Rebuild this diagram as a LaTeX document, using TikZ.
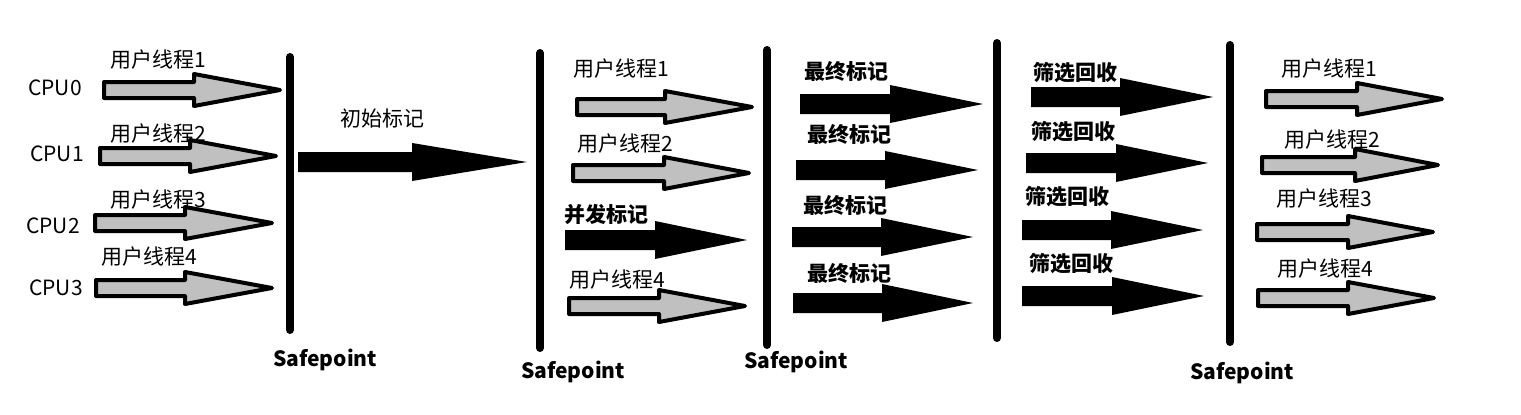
\documentclass[tikz,border=0pt]{standalone}
\usepackage{fontspec}
\setmainfont{Noto Sans CJK SC}
\definecolor{argrey}{HTML}{C0C0C0}
\tikzset{
  spline/.style={line width=8pt, line cap=round},
  garrow/.style={draw=black, line width=4pt, fill=argrey, line join=round},
  barrow/.style={fill=black},
  lbl/.style={font=\fontsize{21}{25}\selectfont, inner sep=0pt},
  blbl/.style={font=\bfseries\fontsize{21}{25}\selectfont, inner sep=0pt},
}
\newcommand\garr[4]{%
  \draw[garrow] ({#1+2},{#4-8}) -- ({#2+2},{#4-8}) -- ({#2+2},{#4-16}) -- ({#3-3},{#4}) -- ({#2+2},{#4+16}) -- ({#2+2},{#4+8}) -- ({#1+2},{#4+8}) -- cycle;}
\newcommand\barr[4]{%
  \fill[barrow] ({#1},{#4-10}) -- ({#2},{#4-10}) -- ({#2},{#4-19}) -- ({#3},{#4}) -- ({#2},{#4+19}) -- ({#2},{#4+10}) -- ({#1},{#4+10}) -- cycle;}
\begin{document}
\begin{tikzpicture}[x=1pt,y=-1pt]
\useasboundingbox[fill=white] (0,0) rectangle (1521,415);
% column 1
\garr{102}{192}{283}{90}
\garr{98}{188}{279}{156}
\garr{93}{183}{275}{223}
\garr{94}{183}{275}{288}
\node[lbl] (u11) at (158,60) {用户线程1};
\node[lbl] (u12) at (158,134) {用户线程2};
\node[lbl] (u13) at (158,200) {用户线程3};
\node[lbl] (u14) at (149,257) {用户线程4};
\node[lbl] (cpu0) at (55,88) {CPU0};
\node[lbl] (cpu1) at (57,154) {CPU1};
\node[lbl] (cpu2) at (53,226) {CPU2};
\node[lbl] (cpu3) at (56,288) {CPU3};
\draw[spline] (290,57) -- (290,330);
\node[blbl] (sp1) at (325,360) {Safepoint};
% initial mark
\barr{298}{412}{527}{162}
\node[lbl] (init) at (382,119) {初始标记};
\draw[spline] (540,53) -- (540,348);
\node[blbl] (sp2) at (573,372) {Safepoint};
% column 2
\garr{575}{663}{755}{107}
\garr{571}{662}{752}{173}
\barr{565}{655}{747}{240}
\garr{567}{657}{748}{306}
\node[lbl] (u21) at (621,69) {用户线程1};
\node[lbl] (u22) at (625,144) {用户线程2};
\node[blbl] (cm) at (606,215) {并发标记};
\node[lbl] (u24) at (617,280) {用户线程4};
\draw[spline] (767,50) -- (767,345);
\node[blbl] (sp3) at (796,362) {Safepoint};
% column 3
\barr{800}{890}{983}{104}
\barr{796}{885}{978}{170}
\barr{792}{881}{973}{237}
\barr{793}{882}{973}{303}
\node[blbl] (fm1) at (846,71) {最终标记};
\node[blbl] (fm2) at (849,134) {最终标记};
\node[blbl] (fm3) at (845,205) {最终标记};
\node[blbl] (fm4) at (849,273) {最终标记};
\draw[spline] (997,43) -- (997,338);
% column 4
\barr{1031}{1120}{1213}{97}
\barr{1026}{1116}{1208}{163}
\barr{1022}{1111}{1203}{230}
\barr{1022}{1112}{1204}{296}
\node[blbl] (sc1) at (1075,73) {筛选回收};
\node[blbl] (sc2) at (1073,132) {筛选回收};
\node[blbl] (sc3) at (1067,197) {筛选回收};
\node[blbl] (sc4) at (1071,264) {筛选回收};
\draw[spline] (1230,45) -- (1230,342);
\node[blbl] (sp5) at (1242,373) {Safepoint};
% column 5
\garr{1264}{1355}{1445}{99}
\garr{1260}{1353}{1441}{165}
\garr{1255}{1346}{1436}{232}
\garr{1256}{1346}{1437}{298}
\node[lbl] (u51) at (1329,69) {用户线程1};
\node[lbl] (u52) at (1332,140) {用户线程2};
\node[lbl] (u53) at (1324,199) {用户线程3};
\node[lbl] (u54) at (1325,269) {用户线程4};
\end{tikzpicture}
\end{document}
